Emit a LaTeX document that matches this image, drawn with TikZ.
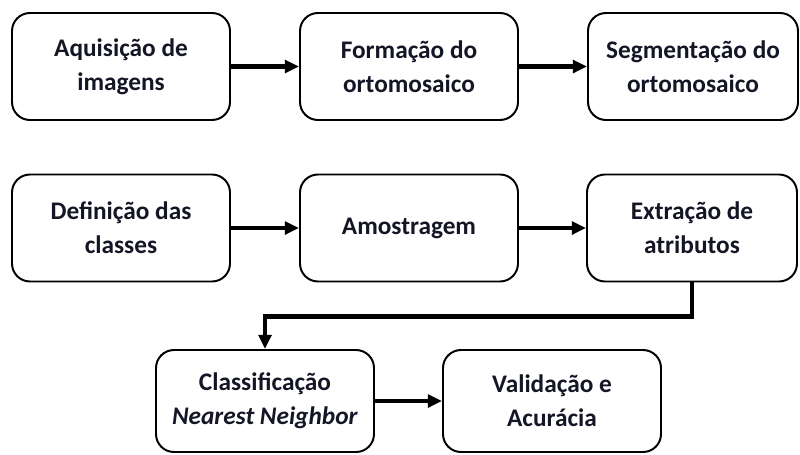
\documentclass[tikz,border=0pt]{standalone}
\usepackage{fontspec}
\setmainfont{Carlito}
\usetikzlibrary{arrows.meta}
\definecolor{txtcol}{RGB}{20,22,38}
\tikzset{
    stage/.style = {draw, line width = 1.4pt, rounded corners = 0.45cm,
        minimum width = 218*0.025cm, minimum height = 107*0.025cm,
        align = center, text = txtcol,
        font = \bfseries\fontsize{18}{24}\selectfont},
    flow/.style = {line width = 3.2pt, -{Triangle[length = 10pt, width = 9pt]}}
}
\begin{document}
\begin{tikzpicture}[x = 0.025cm, y = -0.025cm]
        \useasboundingbox (0,0) rectangle (800,454);
        % first row
        \node[stage] (aquis) at (121,66.5) {Aquisição de\\imagens};
        \node[stage] (form) at (409,66.5) {Formação do\\ortomosaico};
        \node[stage, minimum width = 210*0.025cm] (segm) at (693,66.5) {Segmentação do\\ortomosaico};
        % second row
        \node[stage] (defin) at (121,228) {Definição das\\classes};
        \node[stage] (amost) at (409,228) {Amostragem};
        \node[stage, minimum width = 210*0.025cm] (extr) at (692,228) {Extração de\\atributos};
        % third row
        \node[stage, minimum height = 102*0.025cm] (classif) at (265,401) {Classificação\\\textit{Nearest Neighbor}};
        \node[stage, minimum height = 102*0.025cm] (valid) at (552,401) {Validação e\\Acurácia};
        \draw[flow] (aquis) -- (form);
        \draw[flow] (form) -- (segm);
        \draw[flow] (defin) -- (amost);
        \draw[flow] (amost) -- (extr);
        \draw[flow] (extr.south) -- ++(0,34) -| (classif.north);
        \draw[flow] (classif) -- (valid);
    \end{tikzpicture}
\end{document}
